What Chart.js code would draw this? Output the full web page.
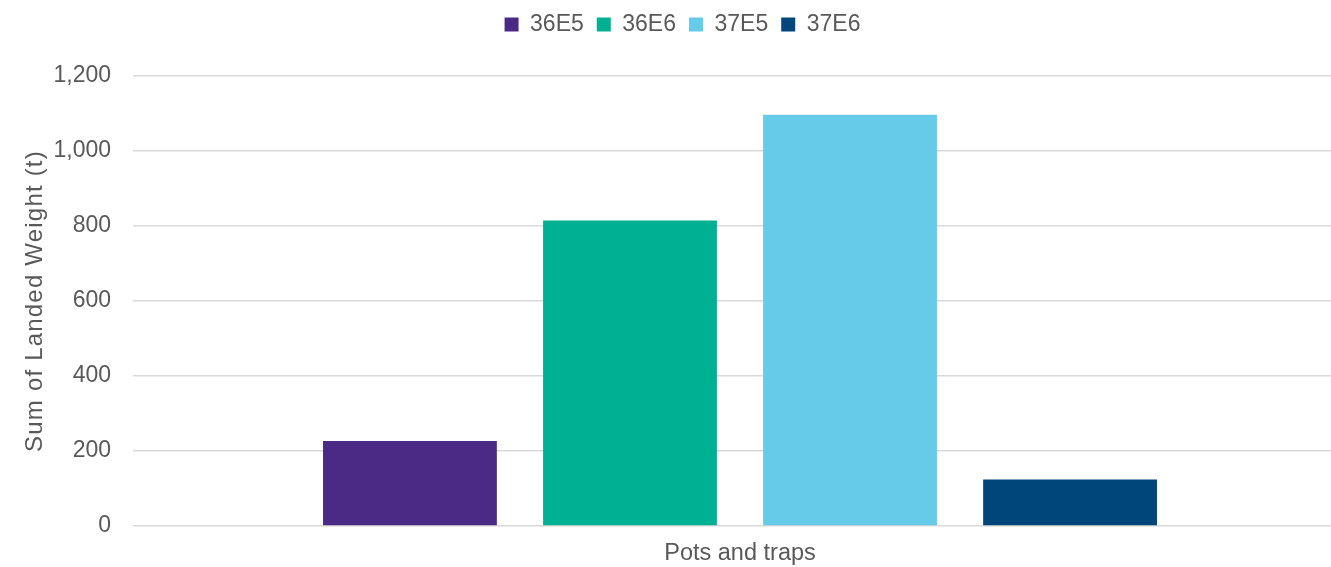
<!DOCTYPE html>
<html>
<head>
<meta charset="utf-8">
<script src="https://cdn.jsdelivr.net/npm/chart.js@4.4.1/dist/chart.umd.min.js"></script>
<style>
  html, body { margin: 0; padding: 0; background: #ffffff; overflow: hidden; width: 1331px; height: 567px; }
  canvas { display: block; }
</style>
</head>
<body>
<canvas id="chart" width="1364" height="567"></canvas>
<script>
// Landings by ICES rectangle, pots and traps
const categories = ['Pots and traps'];
const seriesNames = ['36E5', '36E6', '37E5', '37E6'];
const series36E5 = [227];
const series36E6 = [815];
const series37E5 = [1097];
const series37E6 = [124];
const yTicks = [0, 200, 400, 600, 800, 1000, 1200];

const seriesValues = [series36E5, series36E6, series37E5, series37E6];
const seriesColors = ['#4B2A85', '#00B092', '#65CBE8', '#00467A'];
const textColor = '#595959';
const fontFamily = '"Liberation Sans", Arial, sans-serif';

const datasets = seriesNames.map((name, i) => ({
  label: name,
  data: seriesValues[i],
  backgroundColor: seriesColors[i],
  borderWidth: 0,
  categoryPercentage: 0.725,
  barPercentage: 0.79
}));

// Extra room between the legend row and the plot area, legend centred
// over the whole canvas, and wider letter spacing for the axis title.
const layoutTweaks = {
  id: 'layoutTweaks',
  afterInit(chart) {
    const lg = chart.legend;
    if (lg && !lg._extraGap) {
      const fit = lg.fit.bind(lg);
      lg.fit = function () { fit(); this.height += 30; };
      lg._extraGap = true;
    }
  },
  afterLayout(chart) {
    const lg = chart.legend;
    if (lg) { lg.left += 9; lg.right += 9; }
    const s = chart.scales.y;
    if (s && !s._spacedTitle) {
      const draw = s.drawTitle.bind(s);
      s.drawTitle = function (area) {
        const ctx = this.ctx;
        ctx.save();
        ctx.letterSpacing = '1.2px';
        draw(area);
        ctx.restore();
      };
      s._spacedTitle = true;
    }
  }
};

new Chart(document.getElementById('chart'), {
  type: 'bar',
  data: { labels: categories, datasets },
  plugins: [layoutTweaks],
  options: {
    responsive: false,
    animation: false,
    layout: { padding: { top: 0, right: 17, bottom: 0, left: 0 } },
    plugins: {
      tooltip: { enabled: false },
      legend: {
        position: 'top',
        align: 'center',
        labels: {
          color: textColor,
          font: { family: fontFamily, size: 23 },
          boxWidth: 14,
          boxHeight: 14,
          padding: 13
        }
      }
    },
    scales: {
      x: {
        grid: { display: false, drawTicks: false },
        border: { display: false },
        ticks: {
          color: textColor,
          font: { family: fontFamily, size: 23.5 },
          padding: 13
        },
        afterFit: (scale) => { scale.height = 41; }
      },
      y: {
        min: 0,
        max: 1200,
        afterBuildTicks: (scale) => { scale.ticks = yTicks.map(v => ({ value: v })); },
        grid: { color: '#d9d9d9', lineWidth: 1.5, drawTicks: false },
        border: { display: false },
        ticks: {
          color: textColor,
          font: { family: fontFamily, size: 23 },
          padding: 22,
          callback: (v) => v.toLocaleString('en-US')
        },
        title: {
          display: true,
          text: 'Sum of Landed Weight (t)',
          color: textColor,
          font: { family: fontFamily, size: 24 },
          padding: { top: 21, bottom: 0 }
        },
        afterFit: (scale) => { scale.width = 133; }
      }
    }
  }
});
</script>
</body>
</html>
